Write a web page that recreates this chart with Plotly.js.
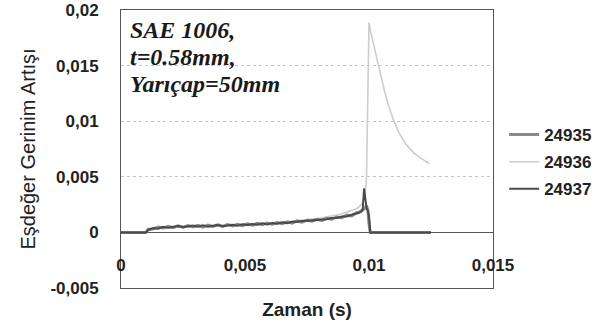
<!DOCTYPE html>
<html>
<head>
<meta charset="utf-8">
<script src="https://cdn.plot.ly/plotly-3.0.1.min.js"></script>
<style>
html,body{margin:0;padding:0;background:#fff;}
#chart{width:607px;height:333px;}
</style>
</head>
<body>
<div id="chart"></div>
<script>
// ---- data ----
const seriesNames = ["24935", "24936", "24937"];

// common time base for the slowly rising part (s)
const tRamp = [0, 0.0010, 0.0011, 0.0013, 0.0015, 0.0017, 0.0019, 0.0021, 0.0023, 0.0025,
  0.0027, 0.0029, 0.0031, 0.0033, 0.0035, 0.0037, 0.0039, 0.0041, 0.0043, 0.0045,
  0.0047, 0.0049, 0.0051, 0.0053, 0.0055, 0.0057, 0.0059, 0.0061, 0.0063, 0.0065,
  0.0067, 0.0069, 0.0071, 0.0073, 0.0075, 0.0077, 0.0079, 0.0081, 0.0083, 0.0085,
  0.0087, 0.0089, 0.0091, 0.0093, 0.0095];

const ramp24935 = [0, 0, 0.00028, 0.00031, 0.00048, 0.00039, 0.00055, 0.00043, 0.00059, 0.00047,
  0.00062, 0.00049, 0.00064, 0.00048, 0.00065, 0.00053, 0.00068, 0.00054, 0.00070, 0.00058,
  0.00073, 0.00060, 0.00078, 0.00065, 0.00081, 0.00070, 0.00085, 0.00073, 0.00089, 0.00078,
  0.00095, 0.00084, 0.00103, 0.00092, 0.00110, 0.00101, 0.00118, 0.00107, 0.00126, 0.00118,
  0.00139, 0.00132, 0.00155, 0.00149, 0.00177];
const ramp24936 = [0, 0, 0.00018, 0.00030, 0.00035, 0.00040, 0.00043, 0.00047, 0.00046, 0.00050,
  0.00052, 0.00051, 0.00055, 0.00054, 0.00057, 0.00058, 0.00060, 0.00059, 0.00062, 0.00064,
  0.00066, 0.00068, 0.00070, 0.00073, 0.00075, 0.00078, 0.00080, 0.00083, 0.00086, 0.00090,
  0.00094, 0.00098, 0.00103, 0.00108, 0.00113, 0.00118, 0.00124, 0.00131, 0.00138, 0.00146,
  0.00156, 0.00167, 0.00180, 0.00195, 0.00212];
const ramp24937 = [0, 0, 0.00022, 0.00040, 0.00034, 0.00051, 0.00042, 0.00049, 0.00057, 0.00046,
  0.00054, 0.00061, 0.00051, 0.00063, 0.00052, 0.00060, 0.00066, 0.00055, 0.00065, 0.00069,
  0.00059, 0.00072, 0.00066, 0.00076, 0.00069, 0.00081, 0.00072, 0.00084, 0.00078, 0.00090,
  0.00083, 0.00096, 0.00095, 0.00103, 0.00104, 0.00106, 0.00112, 0.00115, 0.00119, 0.00130,
  0.00129, 0.00142, 0.00144, 0.00158, 0.00166];

// end of each record (spike / drop / decay)
const tail24935T = [0.0096, 0.0097, 0.0098, 0.0099, 0.00995, 0.0100, 0.01005, 0.0125];
const tail24935V = [0.00182, 0.00195, 0.00210, 0.00240, 0.00200, 0.00080, 0, 0];
const tail24936T = [0.0096, 0.0097, 0.0098, 0.00985, 0.0099, 0.00995, 0.0100, 0.01008, 0.01017,
  0.01027, 0.01037, 0.0105, 0.01064, 0.0108, 0.01099, 0.0112, 0.0115, 0.0118, 0.0121, 0.01243];
const tail24936V = [0.00230, 0.00255, 0.00300, 0.00360, 0.00500, 0.01200, 0.01887, 0.01790, 0.01700,
  0.01600, 0.01500, 0.01370, 0.01257, 0.01135, 0.01010, 0.00900, 0.00790, 0.00715, 0.00665, 0.00620];
const tail24937T = [0.0096, 0.0097, 0.00975, 0.0098, 0.00985, 0.0099, 0.00995, 0.0100, 0.01005, 0.0125];
const tail24937V = [0.00176, 0.00190, 0.00215, 0.00395, 0.00300, 0.00220, 0.00200, 0.00150, 0, 0];

const xTickVals = [0, 0.005, 0.01, 0.015];
const xTickText = ["0", "0,005", "0,01", "0,015"];
const yTickVals = [-0.005, 0, 0.005, 0.01, 0.015, 0.02];
const yTickText = ["-0,005", "0", "0,005", "0,01", "0,015", "0,02"];
const infoLines = ["SAE 1006,", "t=0.58mm,", "Yarıçap=50mm"];

// ---- chart ----
const sans = "Liberation Sans, Arial, sans-serif";
const serif = "Liberation Serif, Times New Roman, serif";

const traces = [
  {name: seriesNames[1], x: tRamp.concat(tail24936T), y: ramp24936.concat(tail24936V),
   mode: "lines", line: {color: "#cdcdcd", width: 1.6}, legendrank: 2, legendgroup: "b"},
  {name: seriesNames[0], x: tRamp.concat(tail24935T), y: ramp24935.concat(tail24935V),
   mode: "lines", line: {color: "#8a8a8a", width: 3}, legendrank: 1, legendgroup: "a"},
  {name: seriesNames[2], x: tRamp.concat(tail24937T), y: ramp24937.concat(tail24937V),
   mode: "lines", line: {color: "#4a4a4a", width: 2}, legendrank: 3, legendgroup: "c"}
];

const annY = [0.928, 0.831, 0.734];
const annotations = infoLines.map((t, i) => ({
  text: "<b><i>" + t + "</i></b>", xref: "paper", yref: "paper", x: 0.018, y: annY[i],
  xanchor: "left", yanchor: "middle", showarrow: false,
  font: {family: serif, size: 24, color: "#1a1a1a"}
}));

const layout = {
  width: 607, height: 333,
  margin: {l: 121, r: 109, t: 10, b: 45},
  paper_bgcolor: "#fff", plot_bgcolor: "#fff",
  separators: ",.",
  showlegend: true,
  legend: {x: 1.03, xanchor: "left", y: 0.615, yanchor: "top",
    font: {family: sans, size: 17, color: "#222", weight: "bold"},
    traceorder: "grouped", tracegroupgap: 2, bgcolor: "rgba(0,0,0,0)"},
  xaxis: {range: [0, 0.015], showticklabels: false, showgrid: false, zeroline: false,
    showline: true, mirror: true, linecolor: "#555", linewidth: 1, ticks: "",
    title: {text: "<b>Zaman (s)</b>", font: {family: sans, size: 19, color: "#222"}, standoff: 14},
    automargin: false},
  xaxis2: {overlaying: "x", anchor: "free", position: 0.126, side: "bottom",
    range: [0, 0.015], tickvals: xTickVals, ticktext: xTickText, ticks: "",
    showline: false, showgrid: false, zeroline: false,
    tickfont: {family: sans, size: 17, color: "#222", weight: "bold"}, automargin: false},
  yaxis: {range: [-0.005, 0.02], tickvals: yTickVals, ticktext: yTickText, ticks: "",
    showline: true, mirror: true, linecolor: "#555", linewidth: 1,
    showgrid: true, gridcolor: "#c4c4c4", griddash: "dot", gridwidth: 1,
    zeroline: true, zerolinecolor: "#555", zerolinewidth: 1.5,
    ticklabelstandoff: 18,
    tickfont: {family: sans, size: 17, color: "#222", weight: "bold"},
    title: {text: "Eşdeğer Gerinim Artışı", font: {family: sans, size: 20, color: "#222"}, standoff: 9},
    automargin: false},
  annotations: annotations
};

// invisible helper trace so xaxis2 (the tick-label row) is rendered
traces.push({x: [0], y: [0], xaxis: "x2", mode: "markers", marker: {opacity: 0}, showlegend: false, hoverinfo: "skip"});

Plotly.newPlot("chart", traces, layout, {displayModeBar: false, staticPlot: true});
</script>
</body>
</html>
